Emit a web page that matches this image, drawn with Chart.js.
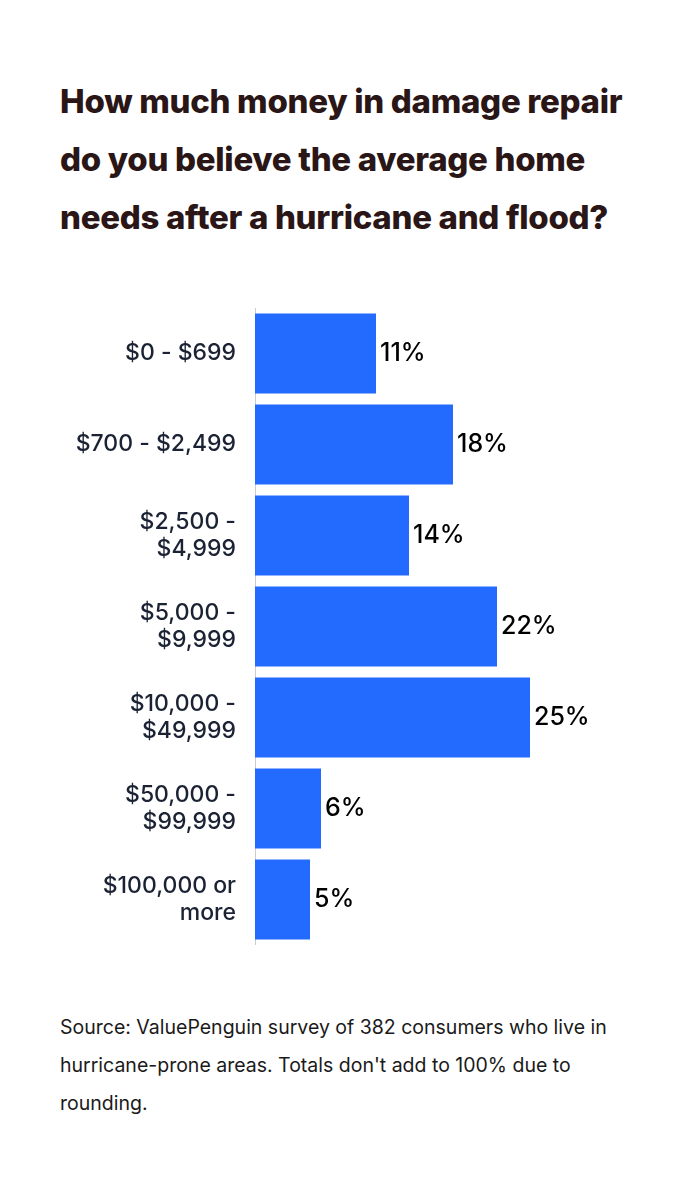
<!DOCTYPE html>
<html>
<head>
<meta charset="utf-8">
<script src="https://cdn.jsdelivr.net/npm/chart.js@4"></script>
<style>
body { margin:0; width:700px; height:1184px; background:#fff; font-family:Inter, "Noto Sans", sans-serif; position:relative; }
h1 { position:absolute; left:60px; top:72px; margin:0; width:575px; font-size:33px; line-height:58px; font-weight:800; color:#2a1616; letter-spacing:-0.3px; }
#c { position:absolute; left:0; top:308px; }
.note { position:absolute; left:60px; top:1008px; width:585px; font-size:19.5px; line-height:38px; color:#1a1a1a; }
</style>
</head>
<body>
<h1>How much money in damage repair do you believe the average home needs after a hurricane and flood?</h1>
<canvas id="c" width="700" height="637"></canvas>
<div class="note">Source: ValuePenguin survey of 382 consumers who live in hurricane-prone areas. Totals don't add to 100% due to rounding.</div>
<script>
const categories = [["$0 - $699"], ["$700 - $2,499"], ["$2,500 -", "$4,999"], ["$5,000 -", "$9,999"], ["$10,000 -", "$49,999"], ["$50,000 -", "$99,999"], ["$100,000 or", "more"]];
const shares = [11, 18, 14, 22, 25, 6, 5];

const valueLabels = {
    id: 'valueLabels',
    afterDatasetsDraw(chart) {
        const ctx = chart.ctx;
        ctx.save();
        ctx.font = '500 25px Inter, "Noto Sans", sans-serif';
        ctx.fillStyle = '#000';
        ctx.textBaseline = 'middle';
        chart.getDatasetMeta(0).data.forEach(function (bar, i) {
            ctx.fillText(shares[i] + '%', bar.x + 4, bar.y);
        });
        ctx.restore();
    }
};

new Chart(document.getElementById('c'), {
    type: 'bar',
    data: {
        labels: categories,
        datasets: [{ data: shares, backgroundColor: '#236bff', barPercentage: 0.88, categoryPercentage: 1 }]
    },
    options: {
        indexAxis: 'y',
        responsive: false,
        animation: false,
        layout: { padding: { right: 5, top: 0, bottom: 0 } },
        plugins: { legend: { display: false }, tooltip: { enabled: false } },
        scales: {
            x: { display: false, min: 0, max: 40 },
            y: {
                grid: { display: false },
                border: { color: '#cccccc', width: 1 },
                ticks: { color: '#1a2233', padding: 11, font: { size: 23, weight: 500, family: 'Inter, "Noto Sans", sans-serif' } },
                afterFit: function (scale) {
                    scale.width = 255;
                    scale.paddingTop = 0;
                    scale.paddingBottom = 0;
                }
            }
        }
    },
    plugins: [valueLabels]
});
</script>
</body>
</html>
